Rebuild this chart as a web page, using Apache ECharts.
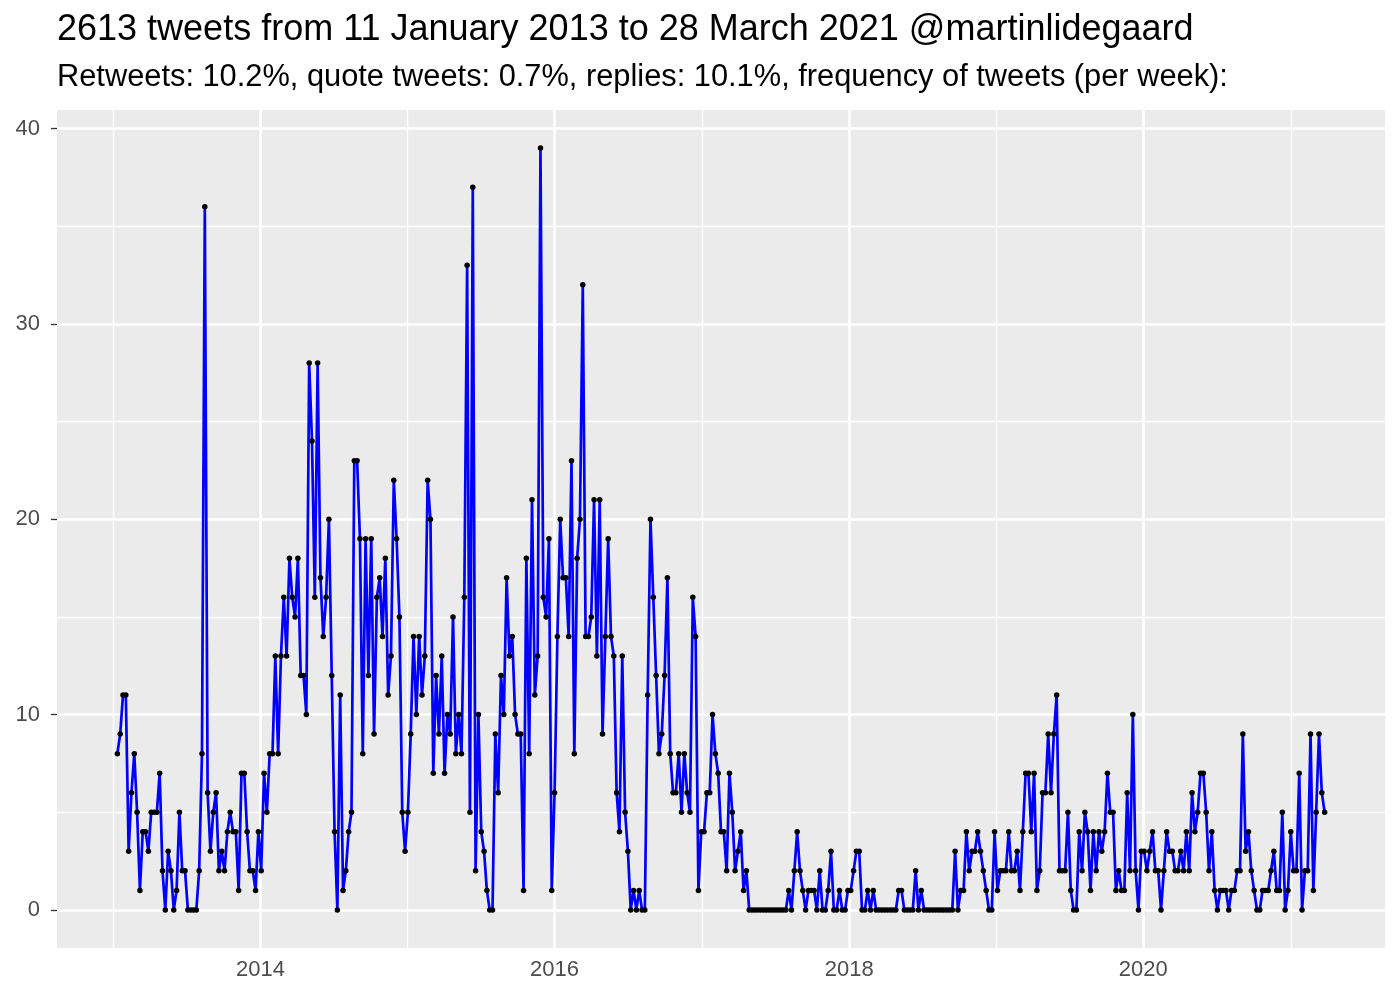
<!DOCTYPE html>
<html>
<head>
<meta charset="utf-8">
<script src="https://cdn.jsdelivr.net/npm/echarts@6/dist/echarts.min.js"></script>
<style>
html,body{margin:0;padding:0;background:#fff;}
#chart{width:1400px;height:1000px;}
</style>
</head>
<body>
<div id="chart"></div>
<script>
// Weekly tweet counts, one per week starting 11 January 2013
const firstWeek = '2013-01-11';
const weeklyCounts = [
  8,9,11,11,3,6,8,5,1,4,
  4,3,5,5,5,7,2,0,3,2,
  0,1,5,2,2,0,0,0,0,2,
  8,36,6,3,5,6,2,3,2,4,
  5,4,4,1,7,7,4,2,2,1,
  4,2,7,5,8,8,13,8,13,16,
  13,18,16,15,18,12,12,10,28,24,
  16,28,17,14,16,20,12,4,0,11,
  1,2,4,5,23,23,19,8,19,12,
  19,9,16,17,14,18,11,13,22,19,
  15,5,3,5,9,14,10,14,11,13,
  22,20,7,12,9,13,7,10,9,15,
  8,10,8,16,33,5,37,2,10,4,
  3,1,0,0,9,6,12,10,17,13,
  14,10,9,9,1,18,8,21,11,13,
  39,16,15,19,1,6,14,20,17,17,
  14,23,8,18,20,32,14,14,15,21,
  13,21,9,14,19,14,13,6,4,13,
  5,3,0,1,0,1,0,0,11,20,
  16,12,8,9,12,17,8,6,6,8,
  5,8,6,5,16,14,1,4,4,6,
  6,10,8,7,4,4,2,7,5,2,
  3,4,1,2,0,0,0,0,0,0,
  0,0,0,0,0,0,0,0,1,0,
  2,4,2,1,0,1,1,1,0,2,
  0,0,1,3,0,0,1,0,0,1,
  1,2,3,3,0,0,1,0,1,0,
  0,0,0,0,0,0,0,1,1,0,
  0,0,0,2,0,1,0,0,0,0,
  0,0,0,0,0,0,0,3,0,1,
  1,4,2,3,3,4,3,2,1,0,
  0,4,1,2,2,2,4,2,2,3,
  1,4,7,7,4,7,1,2,6,6,
  9,6,9,11,2,2,2,5,1,0,
  0,4,2,5,4,1,4,2,4,3,
  4,7,5,5,1,2,1,1,6,2,
  10,2,0,3,3,2,3,4,2,2,
  0,2,4,3,3,2,2,3,2,4,
  2,6,4,5,7,7,5,2,4,1,
  0,1,1,1,0,1,1,2,2,9,
  3,4,2,1,0,0,1,1,1,2,
  3,1,1,5,0,1,4,2,2,7,
  0,2,2,9,1,5,9,6,5
];
const xMajorYears = [2014, 2016, 2018, 2020];
const xMinorYears = [2013, 2015, 2017, 2019, 2021];
const yMajorTicks = [0, 10, 20, 30, 40];
const yMinorTicks = [5, 15, 25, 35];
const titleText = '2613 tweets from 11 January 2013 to 28 March 2021 @martinlidegaard';
const subtitleText = 'Retweets: 10.2%, quote tweets: 0.7%, replies: 10.1%, frequency of tweets (per week):';

const DAY = 86400000;
const t0 = Date.parse(firstWeek + 'T00:00:00Z');
const seriesData = weeklyCounts.map((v, i) => [t0 + i * 7 * DAY, v]);
const tLast = seriesData[seriesData.length - 1][0];
const xPad = 0.05 * (tLast - t0);
const yMaxData = Math.max(...weeklyCounts);
const yPad = 0.05 * yMaxData;
const yearTs = y => Date.UTC(y, 0, 1);

const MAJOR_W = 2.6, MINOR_W = 1.3;
const gridLines = [];
yMajorTicks.forEach(v => gridLines.push({yAxis: v, lineStyle: {color: '#fff', width: MAJOR_W, type: 'solid'}}));
yMinorTicks.forEach(v => gridLines.push({yAxis: v, lineStyle: {color: '#fff', width: MINOR_W, type: 'solid'}}));
xMajorYears.forEach(y => gridLines.push({xAxis: yearTs(y), lineStyle: {color: '#fff', width: MAJOR_W, type: 'solid'}}));
xMinorYears.forEach(y => gridLines.push({xAxis: yearTs(y), lineStyle: {color: '#fff', width: MINOR_W, type: 'solid'}}));

const FONT = '"Liberation Sans", Arial, Helvetica, sans-serif';
const chart = echarts.init(document.getElementById('chart'), null, {renderer: 'canvas'});
chart.setOption({
  animation: false,
  backgroundColor: '#ffffff',
  graphic: [
    {type: 'text', left: 57, top: 12, silent: true,
     style: {text: titleText, font: '36px ' + FONT, fill: '#000'}},
    {type: 'text', left: 57, top: 62, silent: true,
     style: {text: subtitleText, font: '30.8px ' + FONT, fill: '#000'}}
  ],
  grid: {
    left: 57, right: 15, top: 110, bottom: 52,
    show: true, backgroundColor: '#EBEBEB', borderWidth: 0
  },
  xAxis: {
    type: 'value',
    min: t0 - xPad,
    max: tLast + xPad,
    splitLine: {show: false},
    axisLine: {show: false},
    axisTick: {show: true, length: 6, lineStyle: {color: '#333', width: 1.3}, customValues: xMajorYears.map(yearTs)},
    axisLabel: {
      customValues: xMajorYears.map(yearTs),
      formatter: v => String(new Date(v).getUTCFullYear()),
      color: '#4d4d4d', fontSize: 22, fontFamily: FONT, margin: 11
    }
  },
  yAxis: {
    type: 'value',
    min: -yPad,
    max: yMaxData + yPad,
    splitLine: {show: false},
    axisLine: {show: false},
    axisTick: {show: true, length: 6, lineStyle: {color: '#333', width: 1.3}, customValues: yMajorTicks},
    axisLabel: {
      customValues: yMajorTicks,
      color: '#4d4d4d', fontSize: 22, fontFamily: FONT, margin: 17
    }
  },
  series: [
    {
      type: 'line',
      data: [],
      silent: true,
      z: 1,
      markLine: {
        silent: true,
        symbol: ['none', 'none'],
        label: {show: false},
        animation: false,
        z: 1,
        data: gridLines
      }
    },
    {
      type: 'line',
      data: seriesData,
      z: 5,
      silent: true,
      showSymbol: true,
      showAllSymbol: true,
      symbol: 'circle',
      symbolSize: 5.5,
      itemStyle: {color: '#000'},
      lineStyle: {color: '#0000FF', width: 2.7},
      emphasis: {disabled: true}
    }
  ]
});
</script>
</body>
</html>
